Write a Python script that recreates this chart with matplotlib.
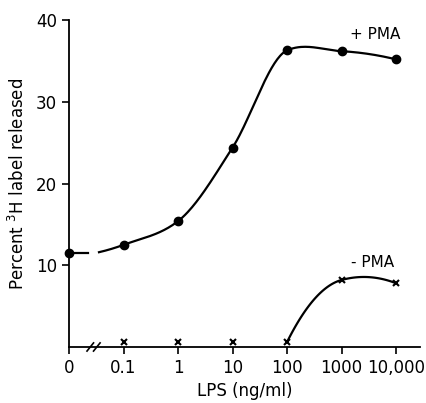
import numpy as np
import matplotlib.pyplot as plt

# LPS doses (ng/ml); the zero dose sits one decade left of 0.1
dose_labels = ["0", "0.1", "1", "10", "100", "1000", "10,000"]
dose_pos = [-2, -1, 0, 1, 2, 3, 4]

plus_pma = [11.5, 12.5, 15.4, 24.4, 36.3, 36.2, 35.2]
minus_pma = [0.6, 0.6, 0.6, 0.6, 8.2, 7.8]
minus_pos = [-1, 0, 1, 2, 3, 4]

BREAK = -1.55


def smooth(xs, ys, n=40):
    # cubic Hermite curve; inner tangents mix monotone and Catmull-Rom
    xs = np.asarray(xs, dtype=float)
    ys = np.asarray(ys, dtype=float)
    h = np.diff(xs)
    d = np.diff(ys) / h
    m = np.zeros_like(ys)
    for k in range(1, len(xs) - 1):
        mono = 0.0
        if d[k - 1] * d[k] > 0:
            w1 = 2 * h[k] + h[k - 1]
            w2 = h[k] + 2 * h[k - 1]
            mono = (w1 + w2) / (w1 / d[k - 1] + w2 / d[k])
        cr = (ys[k + 1] - ys[k - 1]) / (xs[k + 1] - xs[k - 1])
        m[k] = 0.5 * (mono + cr)
    m[0] = 2 * d[0] - m[1]
    m[-1] = 2 * d[-1] - m[-2]
    if m[0] * d[0] < 0:
        m[0] = 0
    if m[-1] * d[-1] < 0:
        m[-1] = 0
    outx, outy = [], []
    t = np.linspace(0, 1, n)
    h00 = 2 * t ** 3 - 3 * t ** 2 + 1
    h10 = t ** 3 - 2 * t ** 2 + t
    h01 = -2 * t ** 3 + 3 * t ** 2
    h11 = t ** 3 - t ** 2
    for k in range(len(xs) - 1):
        outx.extend(xs[k] + t * h[k])
        outy.extend(h00 * ys[k] + h10 * h[k] * m[k]
                    + h01 * ys[k + 1] + h11 * h[k] * m[k + 1])
    return outx, outy


fig = plt.figure(figsize=(4.26, 4.03), dpi=100)
ax = fig.add_axes([0.162, 0.139, 0.824, 0.811])

# +PMA: flat piece up to the axis break, then a smooth curve
ax.plot([dose_pos[0], BREAK - 0.1], [plus_pma[0]] * 2, color="black", lw=1.6)
cx, cy = smooth([BREAK + 0.1] + dose_pos[1:], [plus_pma[0] + 0.1] + plus_pma[1:])
ax.plot(cx, cy, color="black", lw=1.6)
ax.plot(dose_pos, plus_pma, "o", color="black", ms=6, clip_on=False)

# -PMA
mx, my = smooth(minus_pos[3:], minus_pma[3:])
ax.plot(mx, my, color="black", lw=1.6)
ax.plot(minus_pos, minus_pma, "x", color="black", ms=5, mew=1.5)

ax.text(3.15, 38.3, "+ PMA", fontsize=11, va="center")
ax.text(3.17, 10.4, "- PMA", fontsize=11, va="center")

# axis break marks
for dx in (-0.06, 0.06):
    ax.plot([BREAK + dx - 0.06, BREAK + dx + 0.06], [-0.5, 0.5],
            color="black", lw=1.2, clip_on=False)

ax.set_xlim(-2, 4.44)
ax.set_ylim(0, 40)
ax.set_xticks(dose_pos)
ax.set_xticklabels(dose_labels)
ax.set_yticks([10, 20, 30, 40])
ax.tick_params(labelsize=12, width=1.2, length=5)
ax.spines["top"].set_visible(False)
ax.spines["right"].set_visible(False)
ax.spines["left"].set_linewidth(1.3)
ax.spines["bottom"].set_linewidth(1.3)

ax.set_xlabel("LPS (ng/ml)", fontsize=12, labelpad=4)
ax.set_ylabel("Percent $^{3}$H label released", fontsize=12, labelpad=6)

fig.savefig("out.png", dpi=100)
